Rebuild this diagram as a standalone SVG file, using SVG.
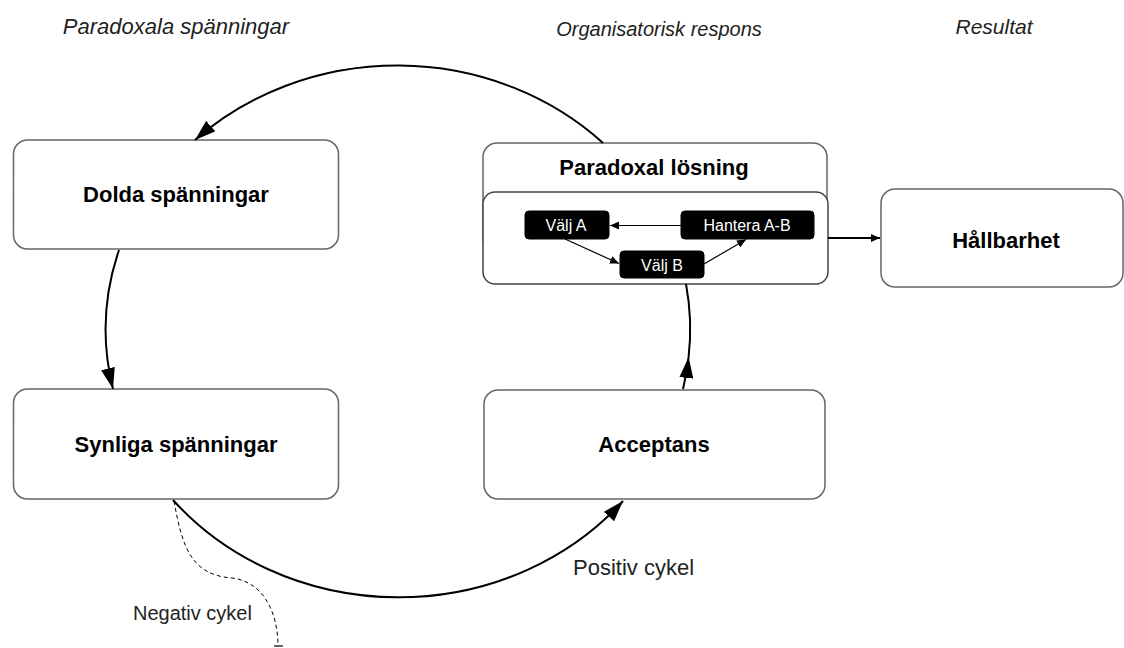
<svg xmlns="http://www.w3.org/2000/svg" width="1124" height="648" viewBox="0 0 1124 648">
<defs>
<style>
.box{fill:#fff;stroke:#666;stroke-width:1.5}
.inner{fill:#fff;stroke:#444;stroke-width:1.5}
.blk{fill:#000;stroke:#000}
.hdr{font-family:"Liberation Sans",Arial,sans-serif;font-style:italic;font-size:21px;fill:#222;text-anchor:middle}
.lbl{font-family:"Liberation Sans",Arial,sans-serif;font-weight:bold;font-size:22px;fill:#000;text-anchor:middle}
.sm{font-family:"Liberation Sans",Arial,sans-serif;font-size:16px;fill:#fff;text-anchor:middle}
.cap{font-family:"Liberation Sans",Arial,sans-serif;font-size:21px;fill:#222}
.arc{fill:none;stroke:#000;stroke-width:2}
.thin{fill:none;stroke:#000;stroke-width:1.2}
</style>
<marker id="big" markerUnits="userSpaceOnUse" markerWidth="22" markerHeight="14" refX="21" refY="7" orient="auto">
<path d="M0,0 L21,7 L0,14 z" fill="#000"/>
</marker>
<marker id="small" markerUnits="userSpaceOnUse" markerWidth="10" markerHeight="8" refX="9" refY="4" orient="auto">
<path d="M0,0 L9,4 L0,8 z" fill="#000"/>
</marker>
</defs>
<rect width="1124" height="648" fill="#fff"/>
<g id="headers">
<text class="hdr" x="176" y="34" style="font-size:22px">Paradoxala spänningar</text>
<text class="hdr" x="659" y="36" style="font-size:20px">Organisatorisk respons</text>
<text class="hdr" x="994" y="34">Resultat</text>
</g>
<g id="node-dolda">
<rect class="box" x="13.5" y="140" width="325" height="109" rx="14"/>
<text class="lbl" x="176" y="202">Dolda spänningar</text>
</g>
<g id="node-synliga">
<rect class="box" x="13.5" y="389" width="325" height="110" rx="14"/>
<text class="lbl" x="176" y="452">Synliga spänningar</text>
</g>
<g id="node-acceptans">
<rect class="box" x="484" y="390" width="341" height="109" rx="14"/>
<text class="lbl" x="654" y="452">Acceptans</text>
</g>
<g id="node-hallbarhet">
<rect class="box" x="881" y="189" width="242" height="98" rx="14"/>
<text class="lbl" x="1006" y="248">Hållbarhet</text>
</g>
<g id="node-paradoxal">
<rect class="box" x="483" y="143" width="344" height="110" rx="14"/>
<text class="lbl" x="654" y="175">Paradoxal lösning</text>
<rect class="inner" x="483" y="192" width="345" height="92" rx="12"/>
</g>
<g id="node-valjA">
<rect class="blk" x="525" y="211" width="84" height="28" rx="4"/>
<text class="sm" x="566" y="231">Välj A</text>
</g>
<g id="node-hantera">
<rect class="blk" x="681" y="211" width="133" height="28" rx="4"/>
<text class="sm" x="747" y="231">Hantera A-B</text>
</g>
<g id="node-valjB">
<rect class="blk" x="620" y="251" width="84" height="27" rx="4"/>
<text class="sm" x="662" y="270.5">Välj B</text>
</g>
<g id="connectors">
<path class="arc" d="M603,143 A292,267 0 0 0 195,140" marker-end="url(#big)"/>
<path class="arc" d="M119,250 A292,267 0 0 0 113,389" marker-end="url(#big)"/>
<path class="arc" d="M173,500 A292,267 0 0 0 623,501" marker-end="url(#big)"/>
<path class="arc" d="M683,389 A292,267 0 0 0 688.6,357" marker-end="url(#big)"/>
<path class="arc" d="M688.6,357 A292,267 0 0 0 686,284"/>
<path class="arc" d="M828,238 L880,238" marker-end="url(#small)" style="stroke-width:1.8"/>
<path class="thin" d="M681,225.5 L610,225.5" marker-end="url(#small)"/>
<path class="thin" d="M565,239 L619,263.5" marker-end="url(#small)"/>
<path class="thin" d="M704,264 L746,239.5" marker-end="url(#small)"/>
<path d="M174,501 C182,545 190,575 232,578 C265,582 278,615 278,646" fill="none" stroke="#000" stroke-width="1" stroke-dasharray="4,3"/>
<path d="M274,646 L283,646" stroke="#000" stroke-width="1.2"/>
</g>
<g id="labels">
<text class="cap" x="573" y="575" style="font-size:22px">Positiv cykel</text>
<text class="cap" x="133" y="620" style="font-size:20px">Negativ cykel</text>
</g>
</svg>
